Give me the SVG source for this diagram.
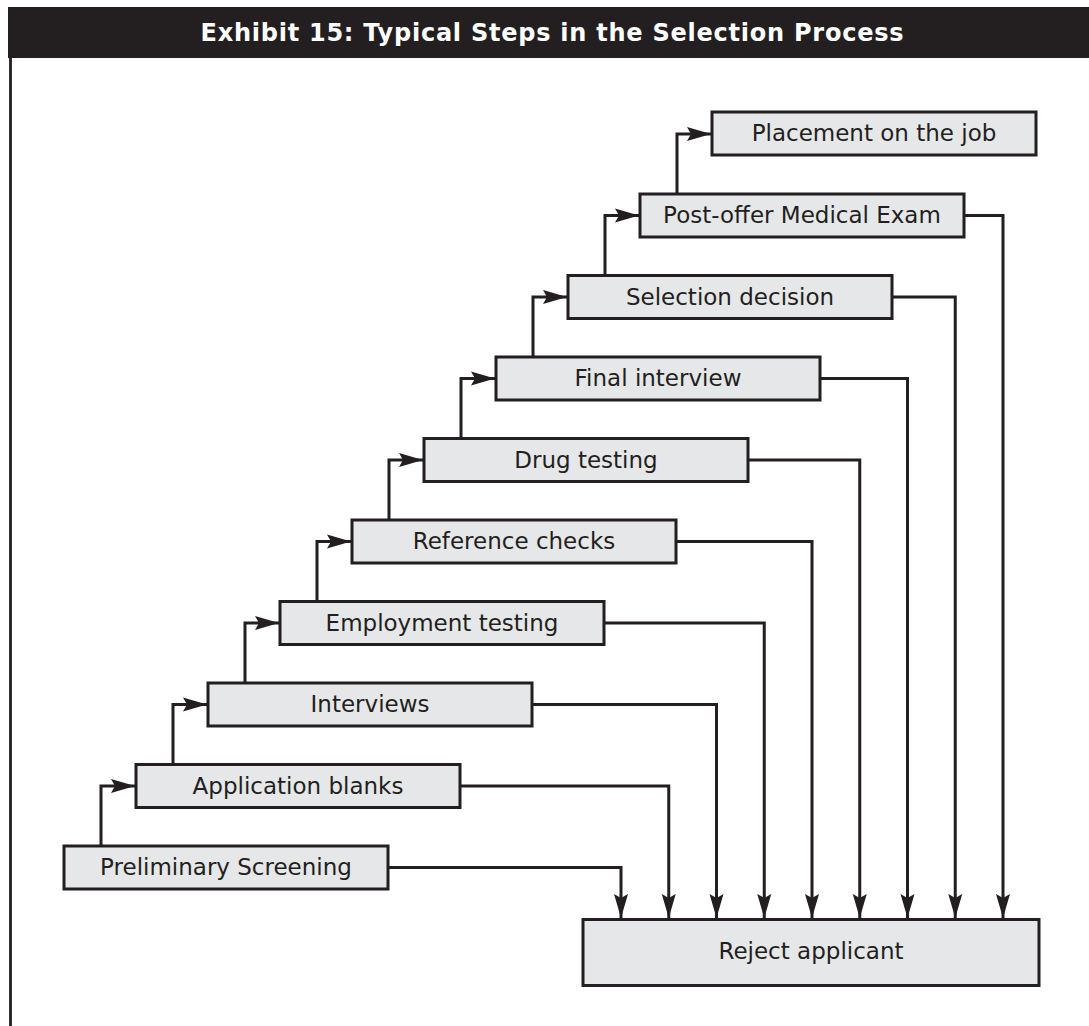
<svg xmlns="http://www.w3.org/2000/svg" width="1089" height="1026" viewBox="0 0 1089 1026">
<style>
.box{fill:#e6e7e8;stroke:#231f20;stroke-width:3}
.lbl{font-family:"DejaVu Sans","Liberation Sans",sans-serif;font-size:23px;fill:#231f20;text-anchor:middle}
.con{fill:none;stroke:#231f20;stroke-width:3;stroke-linejoin:miter}
.title{font-family:"DejaVu Sans","Liberation Sans",sans-serif;font-size:24px;font-weight:bold;fill:#ffffff;text-anchor:middle}
</style>
<defs>
<marker id="ah" markerUnits="userSpaceOnUse" markerWidth="28" markerHeight="18" viewBox="-26 -9 28 18" refX="0" refY="0" orient="auto">
<path d="M0,0 L-24,-7 L-20,0 L-24,7 Z" fill="#231f20"/>
</marker>
</defs>
<rect x="8" y="7" width="1081" height="51" fill="#231f20"/>
<line x1="10.5" y1="58" x2="10.5" y2="1026" stroke="#231f20" stroke-width="2.8"/>
<text class="title" x="552" y="40.5" textLength="703" lengthAdjust="spacing">Exhibit 15: Typical Steps in the Selection Process</text>
<g id="connectors">
<path class="con" marker-end="url(#ah)" d="M101,846 V786 H135"/>
<path class="con" marker-end="url(#ah)" d="M173,764.5 V704.5 H207"/>
<path class="con" marker-end="url(#ah)" d="M245,683 V623 H279"/>
<path class="con" marker-end="url(#ah)" d="M317,601.5 V541.5 H351"/>
<path class="con" marker-end="url(#ah)" d="M389,520 V460 H423"/>
<path class="con" marker-end="url(#ah)" d="M461,438.5 V378.5 H495"/>
<path class="con" marker-end="url(#ah)" d="M533,357 V297 H567"/>
<path class="con" marker-end="url(#ah)" d="M605,275.5 V215.5 H639"/>
<path class="con" marker-end="url(#ah)" d="M677,194 V134 H711"/>
<path class="con" marker-end="url(#ah)" d="M388,867.5 H621 V918"/>
<path class="con" marker-end="url(#ah)" d="M460,786 H668.75 V918"/>
<path class="con" marker-end="url(#ah)" d="M532,704.5 H716.5 V918"/>
<path class="con" marker-end="url(#ah)" d="M604,623 H764.25 V918"/>
<path class="con" marker-end="url(#ah)" d="M676,541.5 H812 V918"/>
<path class="con" marker-end="url(#ah)" d="M748,460 H859.75 V918"/>
<path class="con" marker-end="url(#ah)" d="M820,378.5 H907.5 V918"/>
<path class="con" marker-end="url(#ah)" d="M892,297 H955.25 V918"/>
<path class="con" marker-end="url(#ah)" d="M964,215.5 H1003 V918"/>
</g>
<g id="n0"><rect class="box" x="64" y="846" width="324" height="43"/><text class="lbl" x="226" y="875">Preliminary Screening</text></g>
<g id="n1"><rect class="box" x="136" y="764.5" width="324" height="43"/><text class="lbl" x="298" y="793.5">Application blanks</text></g>
<g id="n2"><rect class="box" x="208" y="683" width="324" height="43"/><text class="lbl" x="370" y="712">Interviews</text></g>
<g id="n3"><rect class="box" x="280" y="601.5" width="324" height="43"/><text class="lbl" x="442" y="630.5">Employment testing</text></g>
<g id="n4"><rect class="box" x="352" y="520" width="324" height="43"/><text class="lbl" x="514" y="549">Reference checks</text></g>
<g id="n5"><rect class="box" x="424" y="438.5" width="324" height="43"/><text class="lbl" x="586" y="467.5">Drug testing</text></g>
<g id="n6"><rect class="box" x="496" y="357" width="324" height="43"/><text class="lbl" x="658" y="386">Final interview</text></g>
<g id="n7"><rect class="box" x="568" y="275.5" width="324" height="43"/><text class="lbl" x="730" y="304.5">Selection decision</text></g>
<g id="n8"><rect class="box" x="640" y="194" width="324" height="43"/><text class="lbl" x="802" y="223">Post-offer Medical Exam</text></g>
<g id="n9"><rect class="box" x="712" y="112" width="324" height="43"/><text class="lbl" x="874" y="141">Placement on the job</text></g>
<g id="reject"><rect class="box" x="583" y="919.5" width="456" height="66"/><text class="lbl" x="811" y="959">Reject applicant</text></g>
</svg>
